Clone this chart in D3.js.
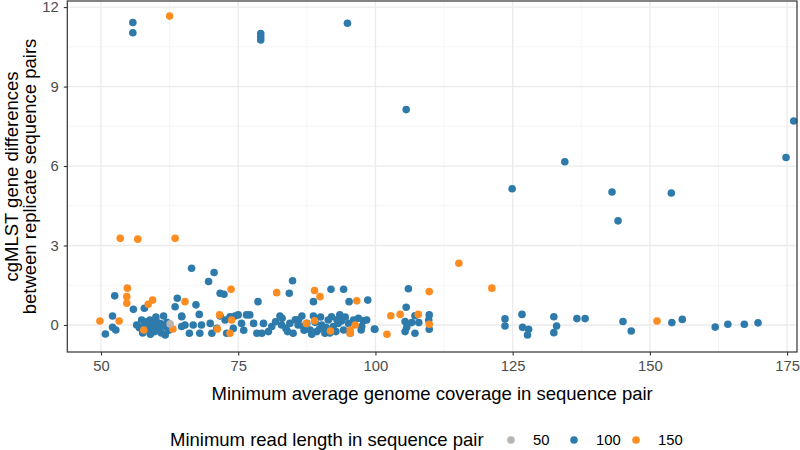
<!DOCTYPE html>
<html>
<head>
<meta charset="utf-8">
<script src="https://cdn.jsdelivr.net/npm/d3@7"></script>
<style>
  body { margin: 0; background: #fff; }
  text { font-family: "Liberation Sans", Arial, Helvetica, sans-serif; }
</style>
</head>
<body>
<svg id="canvas" width="800" height="450"></svg>
<script>
// read length groups and colours
let readLengths = ['50', '100', '150']
let groupColors = ['#bcb4ae', '#2e7bab', '#fd8d22']

// min read length 50
let cov50 = [62.6]
let diff50 = [0.04]

// min read length 100
let cov100 = [
  55.8, 55.8, 79.1, 79.1, 79.1, 94.9, 105.6, 124.9, 134.5, 143.1, 144.2, 153.9, 176.2, 174.8,
  52.5, 55.9, 57.9, 52.1, 52.1, 52.7, 50.8,
  66.5, 70.6, 69.6, 71.7, 72.4, 63.9, 63.5, 67.3, 67.9, 64.7, 78.6, 84.3,
  84.9, 88.7, 91.9, 94.2, 95.2, 98.6, 105.6, 106.0, 99.8, 97.4, 97.8,
  107.2, 109.8, 109.7, 109.8,
  105.4, 106.6, 107.9, 105.7, 105.4, 107.2,
  123.6, 123.6, 126.7, 126.8, 127.9, 127.7, 132.5, 133.0, 132.5, 136.7, 138.2, 145.1, 146.6,
  154.0, 155.9, 161.9, 164.2, 167.2, 169.7,
  56.5, 57.4, 58.0, 58.3, 58.9, 59.5, 59.8, 60.1, 61.4, 61.7, 61.7,
  64.7, 64.7, 65.3, 66.1, 66.8, 68.0, 68.3, 69.9, 70.2, 71.1, 71.7, 72.6, 72.9, 73.5, 74.1, 74.4,
  75.0, 75.6, 76.5, 77.1, 77.8, 78.4, 79.3, 79.6, 80.5, 81.1, 82.6, 82.9, 83.7, 84.4, 85.0, 85.9,
  86.6, 87.5, 88.1, 88.7, 89.3, 90.2, 90.8, 91.4, 92.0, 92.3, 93.2, 93.5, 94.2, 95.1, 95.4, 96.0,
  96.9, 97.5, 98.4, 99.9,
  57.0, 58.6, 59.2, 60.5, 60.8, 62.0, 62.3, 57.6, 60.0, 58.2, 61.0, 59.0,
  83.0, 84.0, 86.0, 87.0, 89.0, 90.0, 91.0, 92.8, 93.8, 94.5, 89.8, 86.8,
  85.4, 88.4, 91.7, 93.0, 81.8, 76.0
]
let diff100 = [
  11.42, 11.03, 11.0, 10.87, 10.76, 11.39, 8.13, 5.14, 6.16, 5.02, 3.93, 4.98, 7.70, 6.32,
  1.10, 0.59, 0.63, 0.34, -0.09, -0.19, -0.34,
  2.14, 1.98, 1.64, 1.20, 1.16, 1.01, 0.69, 0.76, 0.40, 0.31, 0.88, 1.20,
  1.67, 0.88, 1.35, 1.35, 0.88, 0.94, 0.67, 1.37, -0.15, -0.19, 0.16,
  0.35, 0.38, 0.19, -0.16,
  0.13, 0.09, 0.09, -0.09, -0.25, -0.31,
  0.23, -0.04, 0.40, -0.09, -0.16, -0.38, 0.31, -0.04, -0.29, 0.24, 0.24, 0.13, -0.23,
  0.09, 0.21, -0.08, 0.03, 0.03, 0.08,
  0.0, 0.19, 0.0, -0.19, 0.19, 0.0, -0.25, 0.13, 0.34, -0.06, -0.38,
  0.34, -0.06, 0.0, -0.31, 0.0, -0.31, 0.0, 0.06, -0.31, -0.13, 0.34, 0.19, -0.31, 0.31, -0.13, 0.34,
  0.38, 0.06, 0.38, 0.38, 0.06, -0.31, -0.31, 0.06, -0.25, -0.06, 0.34, 0.0, -0.13, 0.06, -0.31, 0.0,
  0.34, 0.06, -0.19, 0.34, -0.25, 0.0, -0.31, 0.19, 0.31, -0.06, 0.06, 0.38, -0.19, 0.06, -0.31, 0.19,
  0.25, -0.06, 0.19, -0.16,
  -0.1, 0.06, -0.1, -0.15, 0.05, 0.1, -0.2, -0.3, 0.3, 0.12, -0.3, -0.35,
  0.25, -0.25, 0.2, -0.2, 0.1, 0.3, -0.1, -0.25, 0.15, 0.3, -0.15, -0.05,
  0.2, -0.35, -0.3, 0.2, 0.12, -0.2
]

// min read length 150
let cov150 = [
  62.5, 54.8, 54.7, 54.7, 58.6, 59.4, 49.8, 53.3, 57.8,
  53.5, 56.7, 63.5,
  73.7, 65.3, 82.0, 63.1, 71.6, 73.8, 71.2, 73.5,
  88.9, 89.9, 96.6, 102.8, 104.5, 102.1, 87.4, 88.9, 91.8, 95.4, 95.4, 96.3,
  115.2, 121.2, 109.8, 107.8, 109.8, 151.3
]
let diff150 = [
  11.66, 1.39, 1.07, 0.82, 0.78, 0.94, 0.15, 0.15, -0.19,
  3.27, 3.24, 3.27,
  1.35, 0.88, 1.22, -0.15, 0.38, 0.19, -0.15, -0.31,
  1.30, 1.07, 0.91, 0.35, 0.40, -0.35, 0.06, 0.16, -0.23, -0.19, -0.31, 0.0,
  2.33, 1.39, 1.26, 0.40, 0.03, 0.15
]

let xTicks = [50, 75, 100, 125, 150, 175]
let yTicks = [0, 3, 6, 9, 12]
let xMinor = [62.5, 87.5, 112.5, 137.5, 162.5]
let yMinor = [1.5, 4.5, 7.5, 10.5]

let canvas = d3.select('#canvas')

function drawChart() {

    var panel = {left: 67.3, right: 797, top: 1, bottom: 352}

    var xScale = d3.scaleLinear()
        .domain([43.86, 176.8])
        .range([panel.left, panel.right])

    var yScale = d3.scaleLinear()
        .domain([-1.02, 12.23])
        .range([panel.bottom, panel.top])

    // blue first, then orange, grey on top
    var points = []
    ;[1, 2, 0].forEach(function (g) {
        var cx = [cov50, cov100, cov150][g]
        var cy = [diff50, diff100, diff150][g]
        cx.forEach(function (v, i) {
            points.push({x: v, y: cy[i], g: g})
        })
    })

    // minor grid
    canvas.selectAll('line.xminor')
        .data(xMinor).enter().append('line')
        .attr('x1', d => xScale(d)).attr('x2', d => xScale(d))
        .attr('y1', panel.top).attr('y2', panel.bottom)
        .attr('stroke', '#f2f2f2').attr('stroke-width', 0.8)
    canvas.selectAll('line.yminor')
        .data(yMinor).enter().append('line')
        .attr('y1', d => yScale(d)).attr('y2', d => yScale(d))
        .attr('x1', panel.left).attr('x2', panel.right)
        .attr('stroke', '#f2f2f2').attr('stroke-width', 0.8)

    // major grid
    canvas.selectAll('line.xmajor')
        .data(xTicks).enter().append('line')
        .attr('x1', d => xScale(d)).attr('x2', d => xScale(d))
        .attr('y1', panel.top).attr('y2', panel.bottom)
        .attr('stroke', '#ebebeb').attr('stroke-width', 1.3)
    canvas.selectAll('line.ymajor')
        .data(yTicks).enter().append('line')
        .attr('y1', d => yScale(d)).attr('y2', d => yScale(d))
        .attr('x1', panel.left).attr('x2', panel.right)
        .attr('stroke', '#ebebeb').attr('stroke-width', 1.3)

    // points
    canvas.selectAll('circle.pt')
        .data(points).enter().append('circle')
        .attr('cx', d => xScale(d.x))
        .attr('cy', d => yScale(d.y))
        .attr('r', 3.8)
        .attr('fill', d => groupColors[d.g])

    // panel border
    canvas.append('rect')
        .attr('x', panel.left).attr('y', panel.top)
        .attr('width', panel.right - panel.left)
        .attr('height', panel.bottom - panel.top)
        .attr('fill', 'none').attr('stroke', '#333').attr('stroke-width', 1.2)

    // axes
    var xAxis = d3.axisBottom(xScale).tickValues(xTicks).tickSize(3.5).tickPadding(5)
    var gx = canvas.append('g')
        .attr('transform', 'translate(0,' + panel.bottom + ')')
        .call(xAxis)
    var yAxis = d3.axisLeft(yScale).tickValues(yTicks).tickSize(3.5).tickPadding(5)
    var gy = canvas.append('g')
        .attr('transform', 'translate(' + panel.left + ',0)')
        .call(yAxis)

    ;[gx, gy].forEach(function (g) {
        g.select('.domain').remove()
        g.selectAll('line').attr('stroke', '#333').attr('stroke-width', 1.1)
        g.selectAll('text').attr('fill', '#4d4d4d')
            .style('font-size', '14.8px')
            .style('font-family', '"Liberation Sans", Arial, sans-serif')
    })

    // axis titles
    canvas.append('text')
        .attr('x', (panel.left + panel.right) / 2).attr('y', 400)
        .attr('text-anchor', 'middle')
        .style('font-size', '18.5px')
        .text('Minimum average genome coverage in sequence pair')

    var yt = canvas.append('text')
        .attr('transform', 'translate(0,' + (panel.top + panel.bottom) / 2 + ') rotate(-90)')
        .attr('text-anchor', 'middle')
        .style('font-size', '18.5px')
    yt.append('tspan').attr('x', 0).attr('y', 18).text('cgMLST gene differences')
    yt.append('tspan').attr('x', 0).attr('y', 36).text('between replicate sequence pairs')

    // legend
    var legend = canvas.append('g')
    legend.append('text')
        .attr('x', 170).attr('y', 446)
        .style('font-size', '18.5px')
        .text('Minimum read length in sequence pair')

    var keyX = [511, 574, 636]
    readLengths.forEach(function (lab, i) {
        legend.append('circle')
            .attr('cx', keyX[i]).attr('cy', 440).attr('r', 3.8)
            .attr('fill', groupColors[i])
        legend.append('text')
            .attr('x', keyX[i] + 22).attr('y', 445)
            .style('font-size', '14.8px')
            .attr('fill', '#000')
            .text(lab)
    })
}

window.onload = drawChart
</script>
</body>
</html>
